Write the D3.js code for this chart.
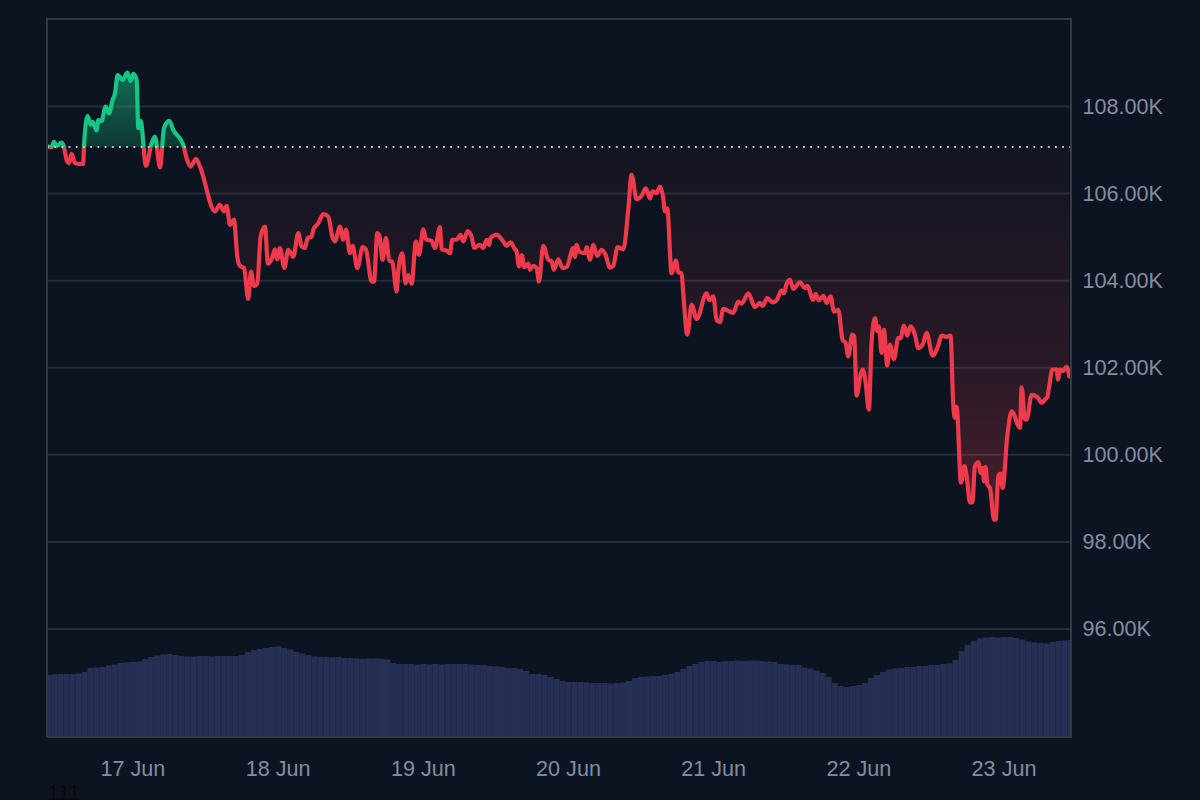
<!DOCTYPE html>
<html>
<head>
<meta charset="utf-8">
<script src="https://cdn.jsdelivr.net/npm/d3@7"></script>
<style>
  html, body { margin: 0; padding: 0; background: #0d1421; overflow: hidden; }
  svg { display: block; font-family: "Liberation Sans", Arial, sans-serif; }
</style>
</head>
<body>
<div id="chart-container"></div>
<script>
// --- Data ---
// Hours counted from 16 Jun 00:00 UTC, prices in thousands of USD
const priceHours = [
  9.79, 10.56, 10.94, 11.39, 12.21, 12.60, 13.04, 13.42, 13.86, 14.42, 15.13, 15.79, 15.90, 16.51, 17.01, 17.34, 18.00, 18.27, 18.82, 19.48,
  20.04, 20.64, 21.03, 21.47, 22.30, 23.07, 23.62, 24.06, 24.61, 24.88, 25.27, 26.15, 27.09, 27.64, 28.47, 29.13, 30.01, 30.67, 32.32, 32.87,
  33.54, 34.42, 35.08, 37.56, 38.38, 39.05, 39.49, 40.04, 40.70, 41.25, 41.69, 42.35, 43.07, 43.51, 44.00, 44.56, 45.11, 45.82, 46.32, 46.92,
  47.48, 47.86, 48.30, 49.02, 49.68, 50.51, 51.33, 51.88, 52.43, 52.88, 53.54, 53.81, 54.64, 55.47, 56.29, 56.95, 57.39, 58.22, 58.77, 59.21,
  59.87, 60.31, 61.09, 61.97, 62.52, 63.45, 63.84, 64.39, 64.72, 65.27, 65.82, 66.37, 66.87, 67.59, 67.86, 68.52, 69.07, 69.52, 70.07, 70.78,
  71.28, 72.00, 72.44, 73.37, 73.92, 74.75, 75.03, 75.85, 76.40, 76.79, 77.51, 78.17, 78.61, 79.32, 79.98, 80.43, 81.36, 81.91, 82.46, 82.90,
  83.12, 84.12, 85.22, 85.77, 86.43, 87.15, 87.42, 87.81, 88.30, 88.69, 89.35, 89.63, 90.18, 90.73, 91.11, 91.83, 92.66, 93.21, 93.59, 94.31,
  95.03, 95.69, 96.79, 97.06, 97.34, 97.73, 98.72, 99.00, 99.55, 100.10, 100.76, 101.47, 102.13, 102.85, 103.40, 104.12, 105.06, 105.88, 106.43, 107.26,
  108.09, 108.80, 109.46, 109.90, 110.56, 111.11, 111.67, 111.94, 112.33, 113.04, 113.76, 114.15, 114.70, 114.97, 115.64, 116.35, 117.18, 118.83, 119.27, 119.93,
  120.48, 121.04, 121.59, 123.24, 124.07, 124.62, 125.72, 126.82, 127.65, 128.09, 128.86, 129.74, 130.40, 131.23, 131.61, 132.06, 132.61, 133.16, 134.26, 135.09,
  135.47, 136.46, 136.85, 137.40, 138.12, 138.67, 139.33, 139.88, 140.60, 141.31, 141.81, 142.25, 142.91, 143.24, 143.63, 144.29, 144.62, 145.06, 145.66, 146.11,
  146.66, 147.04, 147.32, 147.76, 148.14, 148.70, 149.14, 149.80, 150.51, 150.90, 151.45, 152.00, 152.55, 153.27, 153.82, 154.54, 155.20, 156.19, 157.13, 157.68,
  158.50, 159.16, 159.62, 159.89, 160.17, 160.88, 161.44, 161.82, 162.37, 162.76, 163.20, 163.75, 164.14, 164.47, 164.69, 164.96, 165.24, 165.68, 166.34, 166.61,
  167.06, 167.44, 167.77, 168.54, 169.26, 170.64, 170.91, 171.46, 171.74, 172.57, 173.67, 174.22, 174.77, 175.16, 175.43, 175.98, 176.70, 176.92, 177.25, 177.69,
  178.35, 178.79
];
const priceValues = [
  107.09, 107.06, 107.19, 107.09, 107.17, 107.06, 106.77, 106.70, 106.91, 106.70, 106.68, 106.68, 107.08, 107.78, 107.58, 107.65, 107.45, 107.69, 107.67, 108.00,
  107.84, 108.15, 108.30, 108.72, 108.61, 108.78, 108.59, 108.75, 108.61, 107.50, 107.67, 106.64, 107.16, 107.31, 106.60, 107.50, 107.67, 107.46, 107.12, 106.81,
  106.62, 106.80, 106.62, 105.59, 105.74, 105.59, 105.72, 105.28, 105.40, 104.55, 104.34, 104.29, 103.58, 104.21, 103.88, 103.94, 105.02, 105.24, 104.39, 104.49,
  104.72, 104.49, 104.75, 104.29, 104.71, 104.55, 105.09, 104.79, 104.75, 104.98, 105.01, 105.17, 105.32, 105.53, 105.47, 105.01, 104.90, 105.24, 104.94, 105.17,
  104.63, 104.80, 104.29, 104.77, 104.71, 103.98, 103.98, 105.09, 105.05, 104.48, 104.98, 104.46, 104.44, 103.75, 104.21, 104.63, 103.94, 104.13, 103.93, 104.90,
  104.59, 105.18, 104.95, 104.91, 104.75, 105.23, 104.72, 104.69, 104.63, 104.94, 104.94, 105.05, 104.90, 105.14, 105.01, 104.75, 104.82, 104.75, 104.94, 104.82,
  104.98, 105.05, 104.90, 104.80, 104.88, 104.72, 104.67, 104.33, 104.59, 104.31, 104.39, 104.25, 104.34, 104.29, 103.98, 104.80, 104.48, 104.44, 104.25, 104.49,
  104.29, 104.31, 104.75, 104.54, 104.82, 104.67, 104.63, 104.77, 104.48, 104.82, 104.57, 104.71, 104.59, 104.30, 104.34, 104.77, 104.72, 105.63, 106.43, 105.87,
  105.95, 106.12, 105.89, 106.05, 106.01, 106.16, 105.89, 105.59, 105.66, 104.17, 104.46, 104.19, 104.17, 103.71, 102.76, 103.45, 103.12, 103.71, 103.55, 103.64,
  103.10, 103.05, 103.35, 103.26, 103.52, 103.47, 103.71, 103.39, 103.49, 103.42, 103.60, 103.50, 103.55, 103.78, 103.71, 103.93, 104.02, 103.81, 103.96, 103.83,
  103.88, 103.56, 103.70, 103.55, 103.65, 103.49, 103.64, 103.29, 103.33, 102.64, 102.57, 102.26, 102.76, 102.72, 101.36, 101.84, 101.96, 101.73, 101.04, 102.60,
  103.14, 102.84, 102.95, 102.34, 102.87, 102.05, 102.53, 102.20, 102.68, 102.68, 102.97, 102.74, 102.95, 102.76, 102.45, 102.53, 102.80, 102.28, 102.51, 102.74,
  102.71, 102.74, 101.11, 100.85, 101.10, 99.36, 99.74, 99.51, 98.91, 98.91, 99.74, 99.83, 99.58, 99.70, 99.39, 99.72, 99.32, 99.24, 98.51, 98.51,
  99.51, 99.57, 99.24, 100.43, 101.00, 100.62, 101.55, 100.81, 100.81, 101.38, 101.30, 101.19, 101.27, 101.33, 101.53, 101.96, 101.96, 101.73, 101.96, 101.92,
  102.02, 101.80
];

// Hourly volume bars (relative units), first bar is 16 Jun 10:00
const volumeStartHour = 10;
const volumeValues = [
  62, 62.5, 63, 63, 63, 63.5, 65, 69, 69.5, 70, 71.5, 72.5, 74, 74.5, 75, 75.5, 78, 80, 81.5, 82.5,
  83, 82, 81, 80.5, 80.5, 81, 81, 80.5, 81, 81, 81, 81, 82, 85, 87, 88, 89, 90, 90.5, 89,
  87.5, 85, 83.5, 82, 80.5, 80, 80, 79.5, 80, 79, 79, 78.5, 78, 78.5, 78.5, 78, 77.5, 74, 73, 73,
  73, 72.5, 73, 72.5, 73, 72.5, 73, 73, 73, 73, 72.5, 72, 72, 71, 70.5, 70, 69, 69, 68, 66,
  63, 63, 62, 60, 58, 56, 55, 55, 55, 54.5, 54, 54, 54, 53.5, 54, 54.5, 56, 59, 60, 60.5,
  61, 61, 62, 63, 65, 68, 71, 73, 75, 76, 76, 75, 76, 76, 76.5, 76, 76.5, 76.5, 76, 75.5,
  75, 73, 72.5, 72, 72, 69.5, 68.5, 66.5, 64, 60, 54, 51, 50, 51, 52, 54, 59, 62, 65, 67.5,
  68.5, 69, 70, 70, 71, 71, 72, 72, 73, 73.5, 77, 86, 92, 96, 98.5, 99.5, 100, 99.5, 100, 100,
  99, 97.5, 95.5, 94.5, 94, 93.5, 95, 96, 96.5, 97
];

const priceTicks = [96, 98, 100, 102, 104, 106, 108];
const dayTicks = [17, 18, 19, 20, 21, 22, 23];
const openPrice = 107.07;
const startHour = 9.79;
const endHour = 179.07;

// --- Configuration ---
const width = 1200;
const height = 800;
const plot = { left: 47, right: 1071, top: 19, bottom: 737 };
const bg = "#0d1421";
const gridColor = "#252d3c";
const frameColor = "#323a49";
const labelColor = "#858ca2";
const upColor = "#16c784";
const downColor = "#ef3a4b";
const volumeColor = "#262f54";

const hourToDate = h => new Date(Date.UTC(2025, 5, 16) + h * 3600000);

// --- Scales ---
const xScale = d3.scaleUtc()
  .domain([hourToDate(startHour), hourToDate(endHour)])
  .range([plot.left, plot.right]);

const yScale = d3.scaleLinear()
  .domain([96, 108])
  .range([629, 106.5]);

const volumeScale = d3.scaleLinear()
  .domain([0, 100])
  .range([plot.bottom, 637]);

const points = priceHours.map((h, i) => ({ date: hourToDate(h), value: priceValues[i] }));
const volumes = volumeValues.map((v, i) => ({ hour: volumeStartHour + i, value: v }));
const baseY = yScale(openPrice);

// --- Create SVG ---
const svg = d3.select("#chart-container")
  .append("svg")
  .attr("width", width)
  .attr("height", height);

svg.append("rect")
  .attr("width", width)
  .attr("height", height)
  .attr("fill", bg);

const defs = svg.append("defs");

defs.append("clipPath").attr("id", "plot-clip")
  .append("rect")
  .attr("x", plot.left).attr("y", plot.top)
  .attr("width", plot.right - plot.left)
  .attr("height", plot.bottom - plot.top);

defs.append("clipPath").attr("id", "above-clip")
  .append("rect")
  .attr("x", plot.left).attr("y", plot.top)
  .attr("width", plot.right - plot.left)
  .attr("height", baseY - plot.top);

defs.append("clipPath").attr("id", "below-clip")
  .append("rect")
  .attr("x", plot.left).attr("y", baseY)
  .attr("width", plot.right - plot.left)
  .attr("height", plot.bottom - baseY);

// Gradients run along the price range, so colour gets stronger away from the open
const upGradient = defs.append("linearGradient")
  .attr("id", "up-fill")
  .attr("gradientUnits", "userSpaceOnUse")
  .attr("x1", 0).attr("x2", 0)
  .attr("y1", yScale(108.8)).attr("y2", baseY);
upGradient.append("stop").attr("offset", 0).attr("stop-color", upColor).attr("stop-opacity", 0.5);
upGradient.append("stop").attr("offset", 1).attr("stop-color", upColor).attr("stop-opacity", 0.2);

const downGradient = defs.append("linearGradient")
  .attr("id", "down-fill")
  .attr("gradientUnits", "userSpaceOnUse")
  .attr("x1", 0).attr("x2", 0)
  .attr("y1", baseY).attr("y2", yScale(98.5));
downGradient.append("stop").attr("offset", 0).attr("stop-color", downColor).attr("stop-opacity", 0.025);
downGradient.append("stop").attr("offset", 0.6).attr("stop-color", downColor).attr("stop-opacity", 0.13);
downGradient.append("stop").attr("offset", 1).attr("stop-color", downColor).attr("stop-opacity", 0.27);

// --- Grid ---
svg.append("g")
  .selectAll("line")
  .data(priceTicks)
  .enter()
  .append("line")
  .attr("x1", plot.left).attr("x2", plot.right)
  .attr("y1", d => yScale(d)).attr("y2", d => yScale(d))
  .attr("stroke", gridColor)
  .attr("stroke-width", 2);

// --- Volume bars ---
const chart = svg.append("g").attr("clip-path", "url(#plot-clip)");

chart.append("g")
  .selectAll("rect")
  .data(volumes)
  .enter()
  .append("rect")
  .attr("x", d => xScale(hourToDate(d.hour - 0.5)))
  .attr("width", d => xScale(hourToDate(d.hour + 0.5)) - xScale(hourToDate(d.hour - 0.5)))
  .attr("y", d => volumeScale(d.value))
  .attr("height", d => plot.bottom - volumeScale(d.value))
  .attr("fill", volumeColor);

// --- Price areas ---
const area = d3.area()
  .curve(d3.curveMonotoneX)
  .x(d => xScale(d.date))
  .y0(baseY)
  .y1(d => yScale(d.value));

chart.append("path").datum(points)
  .attr("clip-path", "url(#below-clip)")
  .attr("fill", "url(#down-fill)")
  .attr("d", area);

chart.append("path").datum(points)
  .attr("clip-path", "url(#above-clip)")
  .attr("fill", "url(#up-fill)")
  .attr("d", area);

// --- Open price dotted line ---
svg.append("line")
  .attr("x1", plot.left).attr("x2", plot.right)
  .attr("y1", baseY).attr("y2", baseY)
  .attr("stroke", "#c4c8d0")
  .attr("stroke-width", 1.8)
  .attr("stroke-dasharray", "1.8 5.4");

// --- Price line, split in two colours at the open price ---
const line = d3.line()
  .curve(d3.curveMonotoneX)
  .x(d => xScale(d.date))
  .y(d => yScale(d.value));

chart.append("path").datum(points)
  .attr("clip-path", "url(#below-clip)")
  .attr("fill", "none")
  .attr("stroke", downColor)
  .attr("stroke-width", 4.2)
  .attr("stroke-linejoin", "round")
  .attr("stroke-linecap", "round")
  .attr("d", line);

chart.append("path").datum(points)
  .attr("clip-path", "url(#above-clip)")
  .attr("fill", "none")
  .attr("stroke", upColor)
  .attr("stroke-width", 4.2)
  .attr("stroke-linejoin", "round")
  .attr("stroke-linecap", "round")
  .attr("d", line);

// --- Frame ---
svg.append("path")
  .attr("d", d3.line()([
    [plot.left, plot.bottom], [plot.left, plot.top],
    [plot.right, plot.top], [plot.right, plot.bottom], [plot.left, plot.bottom]
  ]))
  .attr("fill", "none")
  .attr("stroke", frameColor)
  .attr("stroke-width", 2);

// --- Axes ---
const yAxis = d3.axisRight(yScale)
  .tickValues(priceTicks)
  .tickSize(0)
  .tickPadding(11.5)
  .tickFormat(d => d3.format(".2f")(d) + "K");

const xAxis = d3.axisBottom(xScale)
  .tickValues(dayTicks.map(d => new Date(Date.UTC(2025, 5, d))))
  .tickSize(0)
  .tickPadding(23.5)
  .tickFormat(d3.utcFormat("%-d %b"));

svg.append("g")
  .attr("transform", `translate(${plot.right}, 0)`)
  .call(yAxis)
  .call(g => g.select(".domain").remove())
  .selectAll("text")
  .attr("fill", labelColor)
  .attr("font-size", "21.6px");

svg.append("g")
  .attr("transform", `translate(-0.5, ${plot.bottom})`)
  .call(xAxis)
  .call(g => g.select(".domain").remove())
  .selectAll("text")
  .attr("fill", labelColor)
  .attr("font-size", "21.6px");

// --- Stray label under the chart ---
svg.append("text")
  .attr("x", 47.5)
  .attr("y", 800)
  .attr("fill", "#0a0a0a")
  .attr("font-size", "21.6px")
  .text("111");
</script>
</body>
</html>
